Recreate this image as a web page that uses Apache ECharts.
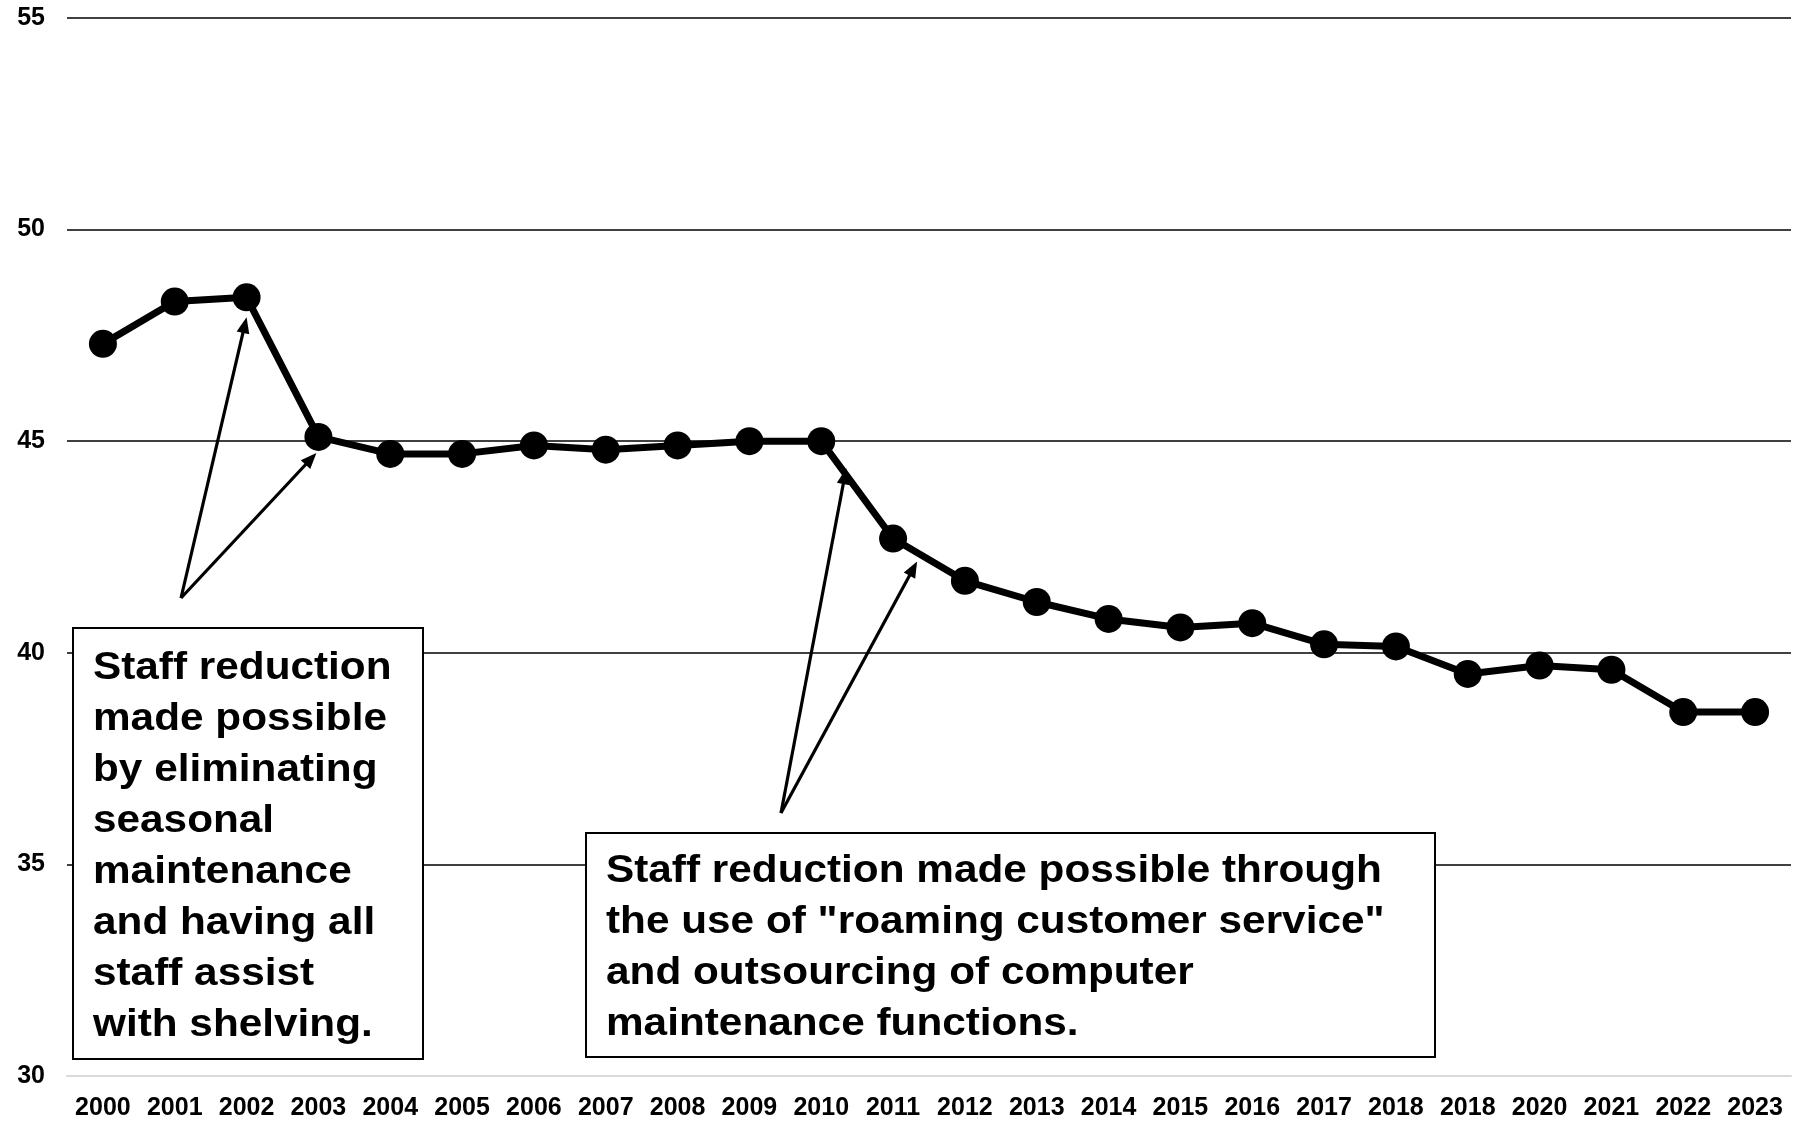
<!DOCTYPE html>
<html>
<head>
<meta charset="utf-8">
<script src="https://cdn.jsdelivr.net/npm/echarts@6/dist/echarts.min.js"></script>
<style>
  html, body { margin: 0; padding: 0; background: #fff; }
  #chart { width: 1794px; height: 1121px; }
</style>
</head>
<body>
<div id="chart"></div>
<script>
// Years (the source labels the 2019 column as a second "2018")
const years = ['2000', '2001', '2002', '2003', '2004', '2005', '2006', '2007',
  '2008', '2009', '2010', '2011', '2012', '2013', '2014', '2015', '2016',
  '2017', '2018', '2018', '2020', '2021', '2022', '2023'];

// Staff count per year
const staff = [47.3, 48.3, 48.4, 45.1, 44.7, 44.7, 44.9, 44.8, 44.9, 45.0,
  45.0, 42.7, 41.7, 41.2, 40.8, 40.6, 40.7, 40.2, 40.15, 39.5, 39.7, 39.6,
  38.6, 38.6];

// Value axis range and step
const yMin = 30;
const yMax = 55;
const yStep = 5;

const noteLeft = 'Staff reduction\nmade possible\nby eliminating\nseasonal\nmaintenance\nand having all\nstaff assist\nwith shelving.';
const noteRight = 'Staff reduction made possible through\nthe use of "roaming customer service"\nand outsourcing of computer\nmaintenance functions.';

const FONT = '"Liberation Sans", Arial, Helvetica, sans-serif';

const chart = echarts.init(document.getElementById('chart'), null, { renderer: 'canvas' });

chart.setOption({
  animation: false,
  backgroundColor: '#fff',
  grid: { left: 67, right: 3, top: 18, bottom: 44, containLabel: false },
  xAxis: {
    type: 'category',
    data: years,
    boundaryGap: true,
    axisTick: { show: false },
    axisLine: { show: true, lineStyle: { color: '#d9d9d9', width: 2 } },
    axisLabel: {
      interval: 0, margin: 20, color: '#000',
      fontFamily: FONT, fontWeight: 'bold', fontSize: 25
    },
    splitLine: { show: false }
  },
  yAxis: {
    type: 'value',
    min: yMin, max: yMax, interval: yStep,
    axisLine: { show: false },
    axisTick: { show: false },
    axisLabel: {
      margin: 22, color: '#000',
      fontFamily: FONT, fontWeight: 'bold', fontSize: 25
    },
    splitLine: {
      show: true,
      lineStyle: { color: ['#d9d9d9', '#000', '#000', '#000', '#000', '#000'], width: 1.5 }
    }
  },
  series: [{
    type: 'line',
    data: staff,
    symbol: 'circle',
    symbolSize: 28,
    lineStyle: { color: '#000', width: 7 },
    itemStyle: { color: '#000' },
    z: 3
  }]
});

// Build an arrow (shaft + filled head) from a tail point to a tip point
function arrow(tail, tip) {
  const dx = tip[0] - tail[0], dy = tip[1] - tail[1];
  const len = Math.sqrt(dx * dx + dy * dy);
  const ux = dx / len, uy = dy / len;
  const nx = -uy, ny = ux;
  const headLen = 16, headHalf = 6.5;
  const bx = tip[0] - ux * headLen, by = tip[1] - uy * headLen;
  return [
    {
      type: 'line', z: 20,
      shape: { x1: tail[0], y1: tail[1], x2: bx + ux * 3, y2: by + uy * 3 },
      style: { stroke: '#000', lineWidth: 3.2 }
    },
    {
      type: 'polygon', z: 20,
      shape: { points: [tip, [bx + nx * headHalf, by + ny * headHalf], [bx - nx * headHalf, by - ny * headHalf]] },
      style: { fill: '#000' }
    }
  ];
}

// Pixel position of a point on the line, nudged by an offset
function near(i, ox, oy) {
  const p = chart.convertToPixel({ seriesIndex: 0 }, [i, staff[i]]);
  return [p[0] + ox, p[1] + oy];
}

const tailLeft = [181, 598];
const tailRight = [781, 813];

const graphics = [].concat(
  arrow(tailLeft, near(2, 0, 20)),
  arrow(tailLeft, near(3, -2, 16)),
  arrow(tailRight, near(10, 25, 27)),
  arrow(tailRight, near(11, 24, 23)),
  [
    {
      type: 'rect', z: 30,
      shape: { x: 73, y: 628, width: 350, height: 431 },
      style: { fill: '#fff', stroke: '#000', lineWidth: 2 }
    },
    {
      type: 'text', z: 31, x: 93, y: 643, scaleX: 1.085,
      style: {
        text: noteLeft, fill: '#000',
        font: 'bold 39px ' + FONT, lineHeight: 51,
        align: 'left', verticalAlign: 'top'
      }
    },
    {
      type: 'rect', z: 30,
      shape: { x: 586, y: 833, width: 849, height: 224 },
      style: { fill: '#fff', stroke: '#000', lineWidth: 2 }
    },
    {
      type: 'text', z: 31, x: 606, y: 846, scaleX: 1.085,
      style: {
        text: noteRight, fill: '#000',
        font: 'bold 39px ' + FONT, lineHeight: 51,
        align: 'left', verticalAlign: 'top'
      }
    }
  ]
);

chart.setOption({ graphic: graphics });
</script>
</body>
</html>
